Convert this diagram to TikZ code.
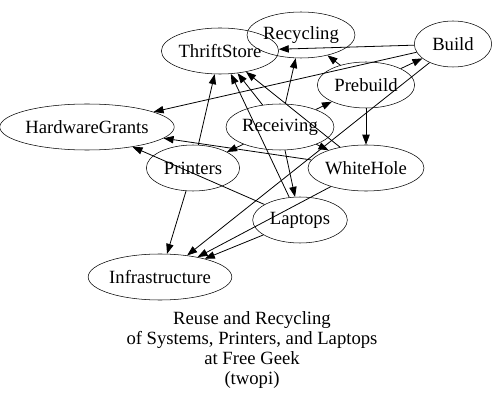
\documentclass[tikz,border=0pt]{standalone}
\usepackage{fontspec}
\setmainfont{Liberation Serif}
\usetikzlibrary{arrows.meta, shapes.geometric}

\begin{document}
\begin{tikzpicture}[x=0.75pt, y=-0.75pt,
    gnode/.style={draw, ellipse, inner sep=0pt, minimum height=34.5pt,
      font=\fontsize{14}{16}\selectfont},
    edge/.style={-{Triangle[length=7.5pt,width=5.5pt]}, line width=0.6pt}]
  \useasboundingbox (0,0) rectangle (500,406);
  \node[gnode, minimum width=87pt]  (ThriftStore)    at (220,51)  {ThriftStore};
  \node[gnode, minimum width=81pt]  (Recycling)      at (301,35)  {Recycling};
  \node[gnode, minimum width=58pt]  (Build)          at (453,44)  {Build};
  \node[gnode, minimum width=73pt]  (Prebuild)       at (366,85)  {Prebuild};
  \node[gnode, minimum width=117pt] (HardwareGrants) at (87,127)  {HardwareGrants};
  \node[gnode, minimum width=81pt]  (Receiving)      at (280,127) {Receiving};
  \node[gnode, minimum width=70pt]  (Printers)       at (193,168) {Printers};
  \node[gnode, minimum width=87pt]  (WhiteHole)      at (366,168) {WhiteHole};
  \node[gnode, minimum width=71pt]  (Laptops)        at (300,220) {Laptops};
  \node[gnode, minimum width=101pt] (Infrastructure) at (160,277) {Infrastructure};
  \draw[edge] (Receiving) -- (Prebuild);
  \draw[edge] (Receiving) -- (Recycling);
  \draw[edge] (Receiving) -- (ThriftStore);
  \draw[edge] (Receiving) -- (Printers);
  \draw[edge] (Receiving) -- (Laptops);
  \draw[edge] (Receiving) -- (WhiteHole);
  \draw[edge] (Prebuild) -- (Build);
  \draw[edge] (Prebuild) -- (Recycling);
  \draw[edge] (Prebuild) -- (WhiteHole);
  \draw[edge] (Build) -- (ThriftStore);
  \draw[edge] (Build) -- (HardwareGrants);
  \draw[edge] (Build) -- (Infrastructure);
  \draw[edge] (WhiteHole) -- (ThriftStore);
  \draw[edge] (WhiteHole) -- (HardwareGrants);
  \draw[edge] (WhiteHole) -- (Infrastructure);
  \draw[edge] (Printers) -- (ThriftStore);
  \draw[edge] (Printers) -- (Infrastructure);
  \draw[edge] (Laptops) -- (ThriftStore);
  \draw[edge] (Laptops) -- (HardwareGrants);
  \draw[edge] (Laptops) -- (Infrastructure);
  \node[align=center, font=\fontsize{14}{15}\selectfont] (caption) at (252,350)
    {Reuse and Recycling\\of Systems, Printers, and Laptops\\at Free Geek\\(twopi)};
\end{tikzpicture}
\end{document}
